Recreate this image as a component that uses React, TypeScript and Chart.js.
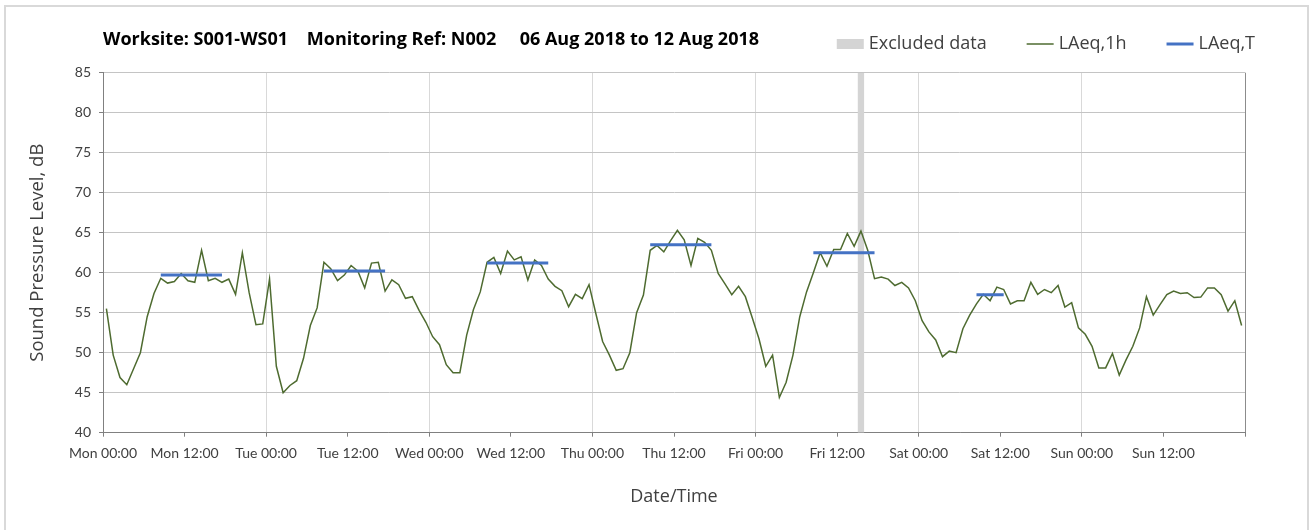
import React, { useEffect, useRef } from 'react';
import { Chart, registerables } from 'chart.js';

Chart.register(...registerables);

// ---------- data ----------
const chartTitle = 'Worksite: S001-WS01    Monitoring Ref: N002     06 Aug 2018 to 12 Aug 2018';
const xAxisTitle = 'Date/Time';
const yAxisTitle = 'Sound Pressure Level, dB';

const xTickLabels = [
  'Mon 00:00', 'Mon 12:00', 'Tue 00:00', 'Tue 12:00', 'Wed 00:00', 'Wed 12:00',
  'Thu 00:00', 'Thu 12:00', 'Fri 00:00', 'Fri 12:00', 'Sat 00:00', 'Sat 12:00',
  'Sun 00:00', 'Sun 12:00', '',
];

// hourly LAeq,1h values, hour 0 = Mon 00:00
const laeq1hMon = [55.5, 49.7, 46.9, 46.0, 48.0, 50.0, 54.5, 57.4, 59.3, 58.7, 58.9, 59.9, 59.0, 58.8, 62.8, 59.0, 59.3, 58.8, 59.2, 57.3, 62.5, 57.5, 53.5, 53.6];
const laeq1hTue = [59.2, 48.3, 45.0, 45.9, 46.5, 49.3, 53.4, 55.6, 61.3, 60.5, 59.0, 59.7, 60.9, 60.2, 58.1, 61.2, 61.3, 57.7, 59.1, 58.5, 56.8, 57.0, 55.3, 53.8];
const laeq1hWed = [52.0, 51.0, 48.5, 47.5, 47.5, 52.2, 55.4, 57.6, 61.3, 61.9, 59.9, 62.7, 61.6, 62.0, 59.1, 61.6, 60.9, 59.2, 58.3, 57.75, 55.75, 57.3, 56.75, 58.5];
const laeq1hThu = [54.9, 51.4, 49.7, 47.8, 48.0, 50.0, 55.0, 57.2, 62.8, 63.4, 62.6, 64.0, 65.3, 64.1, 60.9, 64.3, 63.8, 62.8, 59.9, 58.6, 57.25, 58.3, 57.0, 54.4];
const laeq1hFri = [51.75, 48.3, 49.7, 44.4, 46.3, 49.7, 54.5, 57.6, 60.0, 62.5, 60.8, 62.9, 62.9, 64.9, 63.3, 65.2, 62.8, 59.25, 59.45, 59.2, 58.4, 58.8, 58.1, 56.5];
const laeq1hSat = [54.0, 52.6, 51.6, 49.5, 50.2, 50.0, 53.0, 54.7, 56.1, 57.3, 56.5, 58.2, 57.9, 56.1, 56.5, 56.5, 58.8, 57.3, 57.9, 57.5, 58.4, 55.7, 56.25, 53.1];
const laeq1hSun = [52.3, 50.8, 48.1, 48.1, 49.9, 47.2, 49.1, 50.8, 53.1, 57.0, 54.7, 56.0, 57.25, 57.7, 57.4, 57.5, 56.9, 56.95, 58.1, 58.1, 57.25, 55.2, 56.5, 53.4];
const laeq1h = [...laeq1hMon, ...laeq1hTue, ...laeq1hWed, ...laeq1hThu, ...laeq1hFri, ...laeq1hSat, ...laeq1hSun];

// LAeq,T periods (first / last hour index) and levels
const laeqTStart = [8, 32, 56, 80, 104, 128];
const laeqTEnd = [17, 41, 65, 89, 113, 132];
const laeqTValue = [59.7, 60.2, 61.2, 63.5, 62.5, 57.25];

// excluded data periods (hours)
const excludedStart = [111];
const excludedEnd = [112];

const legendLabels = ['Excluded data', 'LAeq,1h', 'LAeq,T'];

// ---------- chart ----------
const Y_MIN = 40;
const Y_MAX = 85;

const legendPlugin = {
  id: 'customLegend',
  afterDraw(chart: any) {
    const ctx = chart.ctx;
    ctx.save();
    ctx.font = '18px "Open Sans"';
    ctx.textBaseline = 'middle';
    const y = 44;
    let right = chart.width - 54;
    const ds = chart.data.datasets;
    for (let i = ds.length - 1; i >= 0; i--) {
      const d = ds[i];
      const w = ctx.measureText(d.label).width;
      const tx = right - w;
      ctx.fillStyle = '#404040';
      ctx.fillText(d.label, tx, y);
      const mEnd = tx - 5;
      const mStart = mEnd - 27;
      if (d.fill) {
        ctx.fillStyle = d.backgroundColor;
        ctx.fillRect(mStart, y - 5, 27, 10);
      } else {
        ctx.strokeStyle = d.borderColor;
        ctx.lineWidth = d.borderWidth;
        ctx.beginPath();
        ctx.moveTo(mStart, y);
        ctx.lineTo(mEnd, y);
        ctx.stroke();
      }
      right = mStart - 40;
    }
    ctx.restore();
  },
};

export default function App() {
  const ref = useRef<HTMLCanvasElement>(null);

  useEffect(() => {
    const lineData = laeq1h.map((v, i) => ({ x: i + 0.5, y: v }));
    const tData: { x: number; y: number | null }[] = [];
    laeqTStart.forEach((s, k) => {
      tData.push({ x: s + 0.5, y: laeqTValue[k] });
      tData.push({ x: laeqTEnd[k] + 0.5, y: laeqTValue[k] });
      tData.push({ x: laeqTEnd[k] + 1, y: null });
    });
    const exData: { x: number; y: number | null }[] = [];
    excludedStart.forEach((s, k) => {
      exData.push({ x: s, y: Y_MAX });
      exData.push({ x: excludedEnd[k], y: Y_MAX });
    });

    const tickFont = { family: 'Lato', size: 14 };

    const chart = new Chart(ref.current as HTMLCanvasElement, {
      type: 'line',
      data: {
        datasets: [
          {
            label: legendLabels[0],
            data: exData,
            borderColor: 'rgba(0,0,0,0)',
            borderWidth: 0,
            backgroundColor: '#d4d4d4',
            fill: 'start',
            pointRadius: 0,
            order: 3,
          },
          {
            label: legendLabels[1],
            data: lineData,
            borderColor: '#4e6b30',
            borderWidth: 1.5,
            pointRadius: 0,
            tension: 0,
            fill: false,
            order: 2,
          },
          {
            label: legendLabels[2],
            data: tData,
            borderColor: '#4472c4',
            borderWidth: 3,
            pointRadius: 0,
            spanGaps: false,
            fill: false,
            order: 1,
          },
        ] as any,
      },
      options: {
        responsive: false,
        devicePixelRatio: 1,
        animation: false,
        events: [],
        layout: { padding: { left: 0, right: 64, top: 0, bottom: 0 } },
        plugins: {
          legend: { display: false },
          tooltip: { enabled: false },
          title: {
            display: true,
            text: chartTitle,
            align: 'start',
            fullSize: false,
            color: '#000000',
            font: { family: '"Open Sans"', size: 18, weight: 'bold' },
            padding: { top: 29.2, bottom: 21.9 },
          },
        },
        scales: {
          x: {
            type: 'linear',
            min: 0,
            max: 168,
            ticks: {
              stepSize: 12,
              autoSkip: false,
              maxRotation: 0,
              minRotation: 0,
              padding: 8,
              color: '#404040',
              font: tickFont,
              callback: (v: any) => xTickLabels[Math.round(Number(v) / 12)] ?? '',
            },
            grid: {
              color: (c: any) => {
                const v = c.tick ? c.tick.value : -1;
                if (v === 168) return '#8c8c8c';
                if (v % 24 === 0) return '#d9d9d9';
                return 'rgba(0,0,0,0)';
              },
              tickColor: '#808080',
              tickLength: 4,
              lineWidth: 1,
            },
            border: { color: '#808080', width: 1 },
            title: {
              display: true,
              text: xAxisTitle,
              color: '#404040',
              font: { family: '"Open Sans"', size: 18 },
              padding: { top: 0, bottom: 22 },
            },
            afterFit: (s: any) => {
              s.height = 97.3;
            },
          },
          y: {
            min: Y_MIN,
            max: Y_MAX,
            ticks: {
              stepSize: 5,
              padding: 8,
              color: '#404040',
              font: tickFont,
            },
            grid: {
              color: '#c4c4c4',
              tickColor: '#808080',
              tickLength: 4,
              lineWidth: 1,
            },
            border: { color: '#808080', width: 1 },
            title: {
              display: true,
              text: yAxisTitle,
              color: '#404040',
              font: { family: '"Open Sans"', size: 18.5 },
              padding: { top: 27, bottom: 0 },
            },
            afterFit: (s: any) => {
              s.width = 103;
            },
          },
        },
      } as any,
      plugins: [legendPlugin],
    });
    return () => chart.destroy();
  }, []);

  return (
    <div style={{ position: 'fixed', left: 0, top: 0, width: 1309, height: 530, background: '#ffffff', overflow: 'hidden' }}>
      <canvas ref={ref} width={1309} height={530} style={{ position: 'absolute', left: 0, top: 0, width: 1309, height: 530 }} />
      <div style={{ position: 'absolute', left: 4, top: 5, width: 1305, height: 540, border: '2px solid #d9d9d9', boxSizing: 'border-box', pointerEvents: 'none' }} />
    </div>
  );
}
